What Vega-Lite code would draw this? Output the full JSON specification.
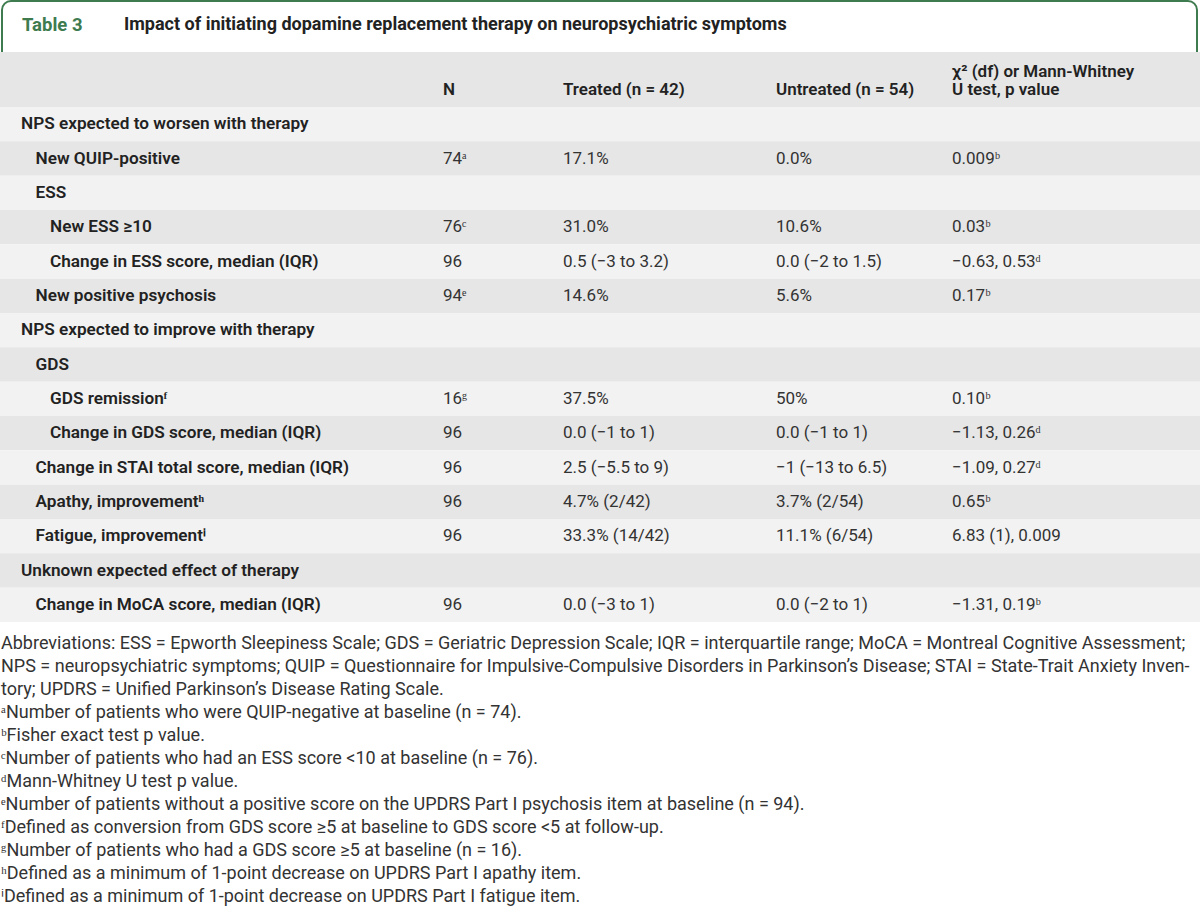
{
  "$schema": "https://vega.github.io/schema/vega-lite/v6.json",
  "width": 1200,
  "height": 912,
  "padding": 0,
  "autosize": {"type": "none"},
  "background": "#ffffff",
  "config": {"view": {"stroke": null}, "text": {"font": "Roboto"}},
  "datasets": {
    "rows": [
      {"row": 0, "level": 0, "label": "NPS expected to worsen with therapy"},
      {"row": 1, "level": 1, "label": "New QUIP-positive"},
      {"row": 2, "level": 1, "label": "ESS"},
      {"row": 3, "level": 2, "label": "New ESS ≥10"},
      {"row": 4, "level": 2, "label": "Change in ESS score, median (IQR)"},
      {"row": 5, "level": 1, "label": "New positive psychosis"},
      {"row": 6, "level": 0, "label": "NPS expected to improve with therapy"},
      {"row": 7, "level": 1, "label": "GDS"},
      {"row": 8, "level": 2, "label": "GDS remissionᶠ"},
      {"row": 9, "level": 2, "label": "Change in GDS score, median (IQR)"},
      {"row": 10, "level": 1, "label": "Change in STAI total score, median (IQR)"},
      {"row": 11, "level": 1, "label": "Apathy, improvementʰ"},
      {"row": 12, "level": 1, "label": "Fatigue, improvementⁱ"},
      {"row": 13, "level": 0, "label": "Unknown expected effect of therapy"},
      {"row": 14, "level": 1, "label": "Change in MoCA score, median (IQR)"}
    ],
    "cells": [
      {"row": 1, "col": "N", "text": "74ᵃ"},
      {"row": 1, "col": "Treated", "text": "17.1%"},
      {"row": 1, "col": "Untreated", "text": "0.0%"},
      {"row": 1, "col": "P", "text": "0.009ᵇ"},
      {"row": 3, "col": "N", "text": "76ᶜ"},
      {"row": 3, "col": "Treated", "text": "31.0%"},
      {"row": 3, "col": "Untreated", "text": "10.6%"},
      {"row": 3, "col": "P", "text": "0.03ᵇ"},
      {"row": 4, "col": "N", "text": "96"},
      {"row": 4, "col": "Treated", "text": "0.5 (−3 to 3.2)"},
      {"row": 4, "col": "Untreated", "text": "0.0 (−2 to 1.5)"},
      {"row": 4, "col": "P", "text": "−0.63, 0.53ᵈ"},
      {"row": 5, "col": "N", "text": "94ᵉ"},
      {"row": 5, "col": "Treated", "text": "14.6%"},
      {"row": 5, "col": "Untreated", "text": "5.6%"},
      {"row": 5, "col": "P", "text": "0.17ᵇ"},
      {"row": 8, "col": "N", "text": "16ᵍ"},
      {"row": 8, "col": "Treated", "text": "37.5%"},
      {"row": 8, "col": "Untreated", "text": "50%"},
      {"row": 8, "col": "P", "text": "0.10ᵇ"},
      {"row": 9, "col": "N", "text": "96"},
      {"row": 9, "col": "Treated", "text": "0.0 (−1 to 1)"},
      {"row": 9, "col": "Untreated", "text": "0.0 (−1 to 1)"},
      {"row": 9, "col": "P", "text": "−1.13, 0.26ᵈ"},
      {"row": 10, "col": "N", "text": "96"},
      {"row": 10, "col": "Treated", "text": "2.5 (−5.5 to 9)"},
      {"row": 10, "col": "Untreated", "text": "−1 (−13 to 6.5)"},
      {"row": 10, "col": "P", "text": "−1.09, 0.27ᵈ"},
      {"row": 11, "col": "N", "text": "96"},
      {"row": 11, "col": "Treated", "text": "4.7% (2/42)"},
      {"row": 11, "col": "Untreated", "text": "3.7% (2/54)"},
      {"row": 11, "col": "P", "text": "0.65ᵇ"},
      {"row": 12, "col": "N", "text": "96"},
      {"row": 12, "col": "Treated", "text": "33.3% (14/42)"},
      {"row": 12, "col": "Untreated", "text": "11.1% (6/54)"},
      {"row": 12, "col": "P", "text": "6.83 (1), 0.009"},
      {"row": 14, "col": "N", "text": "96"},
      {"row": 14, "col": "Treated", "text": "0.0 (−3 to 1)"},
      {"row": 14, "col": "Untreated", "text": "0.0 (−2 to 1)"},
      {"row": 14, "col": "P", "text": "−1.31, 0.19ᵇ"}
    ],
    "header": [
      {"col": "N", "line": 1, "text": "N"},
      {"col": "Treated", "line": 1, "text": "Treated (n = 42)"},
      {"col": "Untreated", "line": 1, "text": "Untreated (n = 54)"},
      {"col": "P", "line": 0, "text": "χ² (df) or Mann-Whitney"},
      {"col": "P", "line": 1, "text": "U test, p value"}
    ],
    "notes": [
      {"line": 0, "text": "Abbreviations: ESS = Epworth Sleepiness Scale; GDS = Geriatric Depression Scale; IQR = interquartile range; MoCA = Montreal Cognitive Assessment;"},
      {"line": 1, "text": "NPS = neuropsychiatric symptoms; QUIP = Questionnaire for Impulsive-Compulsive Disorders in Parkinson’s Disease; STAI = State-Trait Anxiety Inven-"},
      {"line": 2, "text": "tory; UPDRS = Unified Parkinson’s Disease Rating Scale."},
      {"line": 3, "text": "ᵃNumber of patients who were QUIP-negative at baseline (n = 74)."},
      {"line": 4, "text": "ᵇFisher exact test p value."},
      {"line": 5, "text": "ᶜNumber of patients who had an ESS score <10 at baseline (n = 76)."},
      {"line": 6, "text": "ᵈMann-Whitney U test p value."},
      {"line": 7, "text": "ᵉNumber of patients without a positive score on the UPDRS Part I psychosis item at baseline (n = 94)."},
      {"line": 8, "text": "ᶠDefined as conversion from GDS score ≥5 at baseline to GDS score <5 at follow-up."},
      {"line": 9, "text": "ᵍNumber of patients who had a GDS score ≥5 at baseline (n = 16)."},
      {"line": 10, "text": "ʰDefined as a minimum of 1-point decrease on UPDRS Part I apathy item."},
      {"line": 11, "text": "ⁱDefined as a minimum of 1-point decrease on UPDRS Part I fatigue item."}
    ],
    "titles": [
      {"part": "label", "text": "Table 3"},
      {"part": "title", "text": "Impact of initiating dopamine replacement therapy on neuropsychiatric symptoms"}
    ],
    "frame": [{"part": "frame"}],
    "headband": [{"part": "header"}]
  },
  "resolve": {"scale": {"x": "independent", "y": "independent", "color": "independent"}},
  "layer": [
    {
      "data": {"name": "frame"},
      "mark": {"type": "rect", "fill": "#ffffff", "stroke": "#3e7b4f", "strokeWidth": 2, "cornerRadius": 9},
      "encoding": {
        "x": {"field": "part", "type": "nominal", "axis": null, "scale": {"type": "band", "domain": ["frame"], "range": [2, 1197], "paddingInner": 0, "paddingOuter": 0}},
        "y": {"field": "part", "type": "nominal", "axis": null, "scale": {"type": "band", "domain": ["frame"], "range": [1, 62], "paddingInner": 0, "paddingOuter": 0}}
      }
    },
    {
      "data": {"name": "titles"},
      "mark": {"type": "text", "align": "left", "baseline": "middle", "fontWeight": "bold", "font": "Roboto"},
      "encoding": {
        "x": {"field": "part", "type": "nominal", "axis": null, "scale": {"type": "point", "domain": ["label", "title"], "range": [22, 124], "padding": 0}},
        "y": {"datum": "t", "type": "nominal", "axis": null, "scale": {"type": "point", "domain": ["t"], "range": [25, 25], "padding": 0}},
        "text": {"field": "text"},
        "size": {"condition": {"test": "datum.part === 'label'", "value": 18.5}, "value": 18}
      ,
        "color": {"condition": {"test": "datum.part === 'label'", "value": "#3e7b4f"}, "value": "#222222"}
      }
    },
    {
      "data": {"name": "headband"},
      "mark": {"type": "rect", "fill": "#e6e6e6"},
      "encoding": {
        "y": {"field": "part", "type": "nominal", "axis": null, "scale": {"type": "band", "domain": ["header"], "range": [52, 107], "paddingInner": 0, "paddingOuter": 0}}
      }
    },
    {
      "data": {"name": "rows"},
      "mark": {"type": "rect"},
      "encoding": {
        "y": {"field": "row", "type": "ordinal", "axis": null, "scale": {"type": "band", "domain": [0,1,2,3,4,5,6,7,8,9,10,11,12,13,14], "range": [107, 622], "paddingInner": 0, "paddingOuter": 0}},
        "fill": {"condition": {"test": "datum.row % 2 === 0", "value": "#f2f2f2"}, "value": "#e6e6e6"}
      }
    },
    {
      "data": {"name": "rows"},
      "mark": {"type": "text", "align": "left", "baseline": "middle", "fontSize": 17.2, "fontWeight": 600, "color": "#222222", "font": "Roboto"},
      "encoding": {
        "x": {"field": "level", "type": "ordinal", "axis": null, "scale": {"type": "point", "domain": [0, 1, 2], "range": [21, 50], "padding": 0}},
        "y": {"field": "row", "type": "ordinal", "axis": null, "scale": {"type": "band", "domain": [0,1,2,3,4,5,6,7,8,9,10,11,12,13,14], "range": [107, 622], "paddingInner": 0, "paddingOuter": 0}},
        "text": {"field": "label"}
      }
    },
    {
      "data": {"name": "cells"},
      "transform": [{"filter": "datum.col === 'N' || datum.col === 'P'"}],
      "mark": {"type": "text", "align": "left", "baseline": "middle", "fontSize": 17, "color": "#333333", "font": "Roboto"},
      "encoding": {
        "x": {"field": "col", "type": "nominal", "axis": null, "scale": {"type": "point", "domain": ["N", "P"], "range": [443, 952], "padding": 0}},
        "y": {"field": "row", "type": "ordinal", "axis": null, "scale": {"type": "band", "domain": [0,1,2,3,4,5,6,7,8,9,10,11,12,13,14], "range": [107, 622], "paddingInner": 0, "paddingOuter": 0}},
        "text": {"field": "text"}
      }
    },
    {
      "data": {"name": "cells"},
      "transform": [{"filter": "datum.col === 'Treated' || datum.col === 'Untreated'"}],
      "mark": {"type": "text", "align": "left", "baseline": "middle", "fontSize": 17, "color": "#333333", "font": "Roboto"},
      "encoding": {
        "x": {"field": "col", "type": "nominal", "axis": null, "scale": {"type": "point", "domain": ["Treated", "Untreated"], "range": [563, 776], "padding": 0}},
        "y": {"field": "row", "type": "ordinal", "axis": null, "scale": {"type": "band", "domain": [0,1,2,3,4,5,6,7,8,9,10,11,12,13,14], "range": [107, 622], "paddingInner": 0, "paddingOuter": 0}},
        "text": {"field": "text"}
      }
    },
    {
      "data": {"name": "header"},
      "transform": [{"filter": "datum.col === 'N' || datum.col === 'P'"}],
      "mark": {"type": "text", "align": "left", "baseline": "middle", "fontSize": 17, "fontWeight": 600, "color": "#222222", "font": "Roboto"},
      "encoding": {
        "x": {"field": "col", "type": "nominal", "axis": null, "scale": {"type": "point", "domain": ["N", "P"], "range": [443, 952], "padding": 0}},
        "y": {"field": "line", "type": "ordinal", "axis": null, "scale": {"type": "point", "domain": [0, 1], "range": [72, 90], "padding": 0}},
        "text": {"field": "text"}
      }
    },
    {
      "data": {"name": "header"},
      "transform": [{"filter": "datum.col === 'Treated' || datum.col === 'Untreated'"}],
      "mark": {"type": "text", "align": "left", "baseline": "middle", "fontSize": 17, "fontWeight": 600, "color": "#222222", "font": "Roboto"},
      "encoding": {
        "x": {"field": "col", "type": "nominal", "axis": null, "scale": {"type": "point", "domain": ["Treated", "Untreated"], "range": [563, 776], "padding": 0}},
        "y": {"field": "line", "type": "ordinal", "axis": null, "scale": {"type": "point", "domain": [0, 1], "range": [72, 90], "padding": 0}},
        "text": {"field": "text"}
      }
    },
    {
      "data": {"name": "notes"},
      "mark": {"type": "text", "align": "left", "baseline": "middle", "fontSize": 18, "color": "#333333", "font": "Roboto"},
      "encoding": {
        "x": {"datum": "n", "type": "nominal", "axis": null, "scale": {"type": "point", "domain": ["n"], "range": [1, 1], "padding": 0}},
        "y": {"field": "line", "type": "ordinal", "axis": null, "scale": {"type": "point", "domain": [0,1,2,3,4,5,6,7,8,9,10,11], "range": [644, 897], "padding": 0}},
        "text": {"field": "text"}
      }
    }
  ]
}
